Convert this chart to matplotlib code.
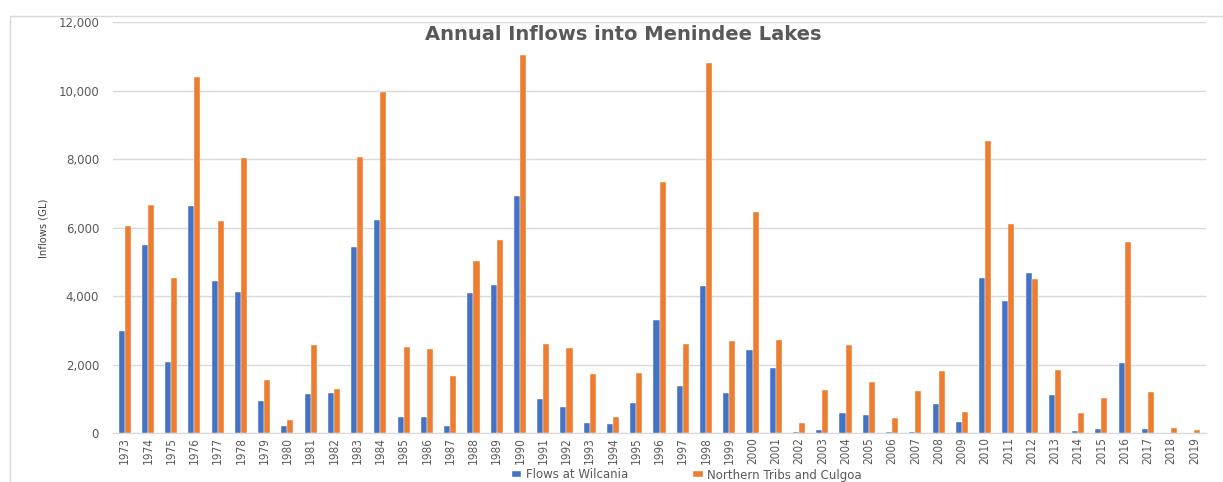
import numpy as np
import matplotlib.pyplot as plt
from matplotlib.patches import Rectangle

years = [str(y) for y in range(1973, 2020)]

# annual inflows in GL
wilcania = [2990, 5490, 2080, 6630, 4430, 4130, 930, 190, 1130, 1160,
            5430, 6230, 470, 470, 190, 4090, 4330, 6930, 990, 770,
            300, 250, 870, 3310, 1360, 4300, 1160, 2420, 1910, 40,
            90, 580, 530, 30, 40, 850, 310, 4540, 3870, 4670,
            1100, 60, 110, 2050, 120, 0, 0]
northern = [6060, 6650, 4530, 10390, 6200, 8030, 1550, 380, 2560, 1280,
            8070, 9960, 2510, 2440, 1660, 5020, 5640, 11040, 2590, 2490,
            1730, 480, 1760, 7340, 2590, 10810, 2690, 6460, 2730, 280,
            1270, 2560, 1500, 450, 1240, 1800, 620, 8530, 6120, 4490,
            1850, 570, 1020, 5570, 1200, 140, 90]

series_names = ["Flows at Wilcania", "Northern Tribs and Culgoa"]

BLUE = "#4472C4"
ORANGE = "#ED7D31"
GRID = "#D9D9D9"
TEXT = "#595959"


def plot_inflows(outpath):
    fig = plt.figure(figsize=(12.23, 4.82), dpi=100)
    ax = fig.add_axes([113 / 1223, 1 - 433 / 482, (1206 - 113) / 1223, (433 - 22.3) / 482])

    # chart area frame
    fig.patches.append(Rectangle((10 / 1223, -0.01), 1.0, 1 - 16 / 482 + 0.01,
                                 transform=fig.transFigure, fill=False,
                                 edgecolor=GRID, linewidth=1.0))

    x = np.arange(len(years))
    width = 0.26
    ax.bar(x - width / 2, wilcania, width, color=BLUE, label=series_names[0],
           edgecolor="white", linewidth=0.3, zorder=3)
    ax.bar(x + width / 2, northern, width, color=ORANGE, label=series_names[1],
           edgecolor="white", linewidth=0.3, zorder=3)

    ax.set_xlim(-0.5, len(years) - 0.5)
    ax.set_ylim(0, 12000)
    ax.set_yticks(np.arange(0, 12001, 2000))
    ax.set_yticklabels([f"{v:,}" for v in range(0, 12001, 2000)],
                       fontsize=8.5, color=TEXT)
    ax.set_xticks(x)
    ax.set_xticklabels(years, rotation=90, fontsize=8.5, color=TEXT,
                       family="DejaVu Sans", fontstretch="condensed")
    ax.tick_params(axis="both", length=0)
    ax.tick_params(axis="y", pad=10)
    ax.tick_params(axis="x", pad=3)

    ax.grid(axis="y", color=GRID, linewidth=1.0, zorder=0)
    for side in ["top", "right", "left"]:
        ax.spines[side].set_visible(False)
    ax.spines["bottom"].set_color(GRID)

    fig.text(623 / 1223, 1 - 34 / 482, "Annual Inflows into Menindee Lakes",
             ha="center", va="center", fontsize=14, fontweight="bold", color=TEXT)
    fig.text(43 / 1223, 1 - 228 / 482, "Inflows (GL)", rotation=90,
             ha="center", va="center", fontsize=8, color="#404040",
             family="DejaVu Sans", fontstretch="condensed")

    fig.legend(loc="center", bbox_to_anchor=(687 / 1223, 1 - 475 / 482), ncol=2,
               frameon=False, fontsize=8.5, labelcolor=TEXT, handlelength=0.8,
               handleheight=0.45, handletextpad=0.4, columnspacing=5.5)

    fig.savefig(outpath, dpi=100)
    plt.close(fig)


def main():
    plot_inflows("out.png")


if __name__ == "__main__":
    main()
